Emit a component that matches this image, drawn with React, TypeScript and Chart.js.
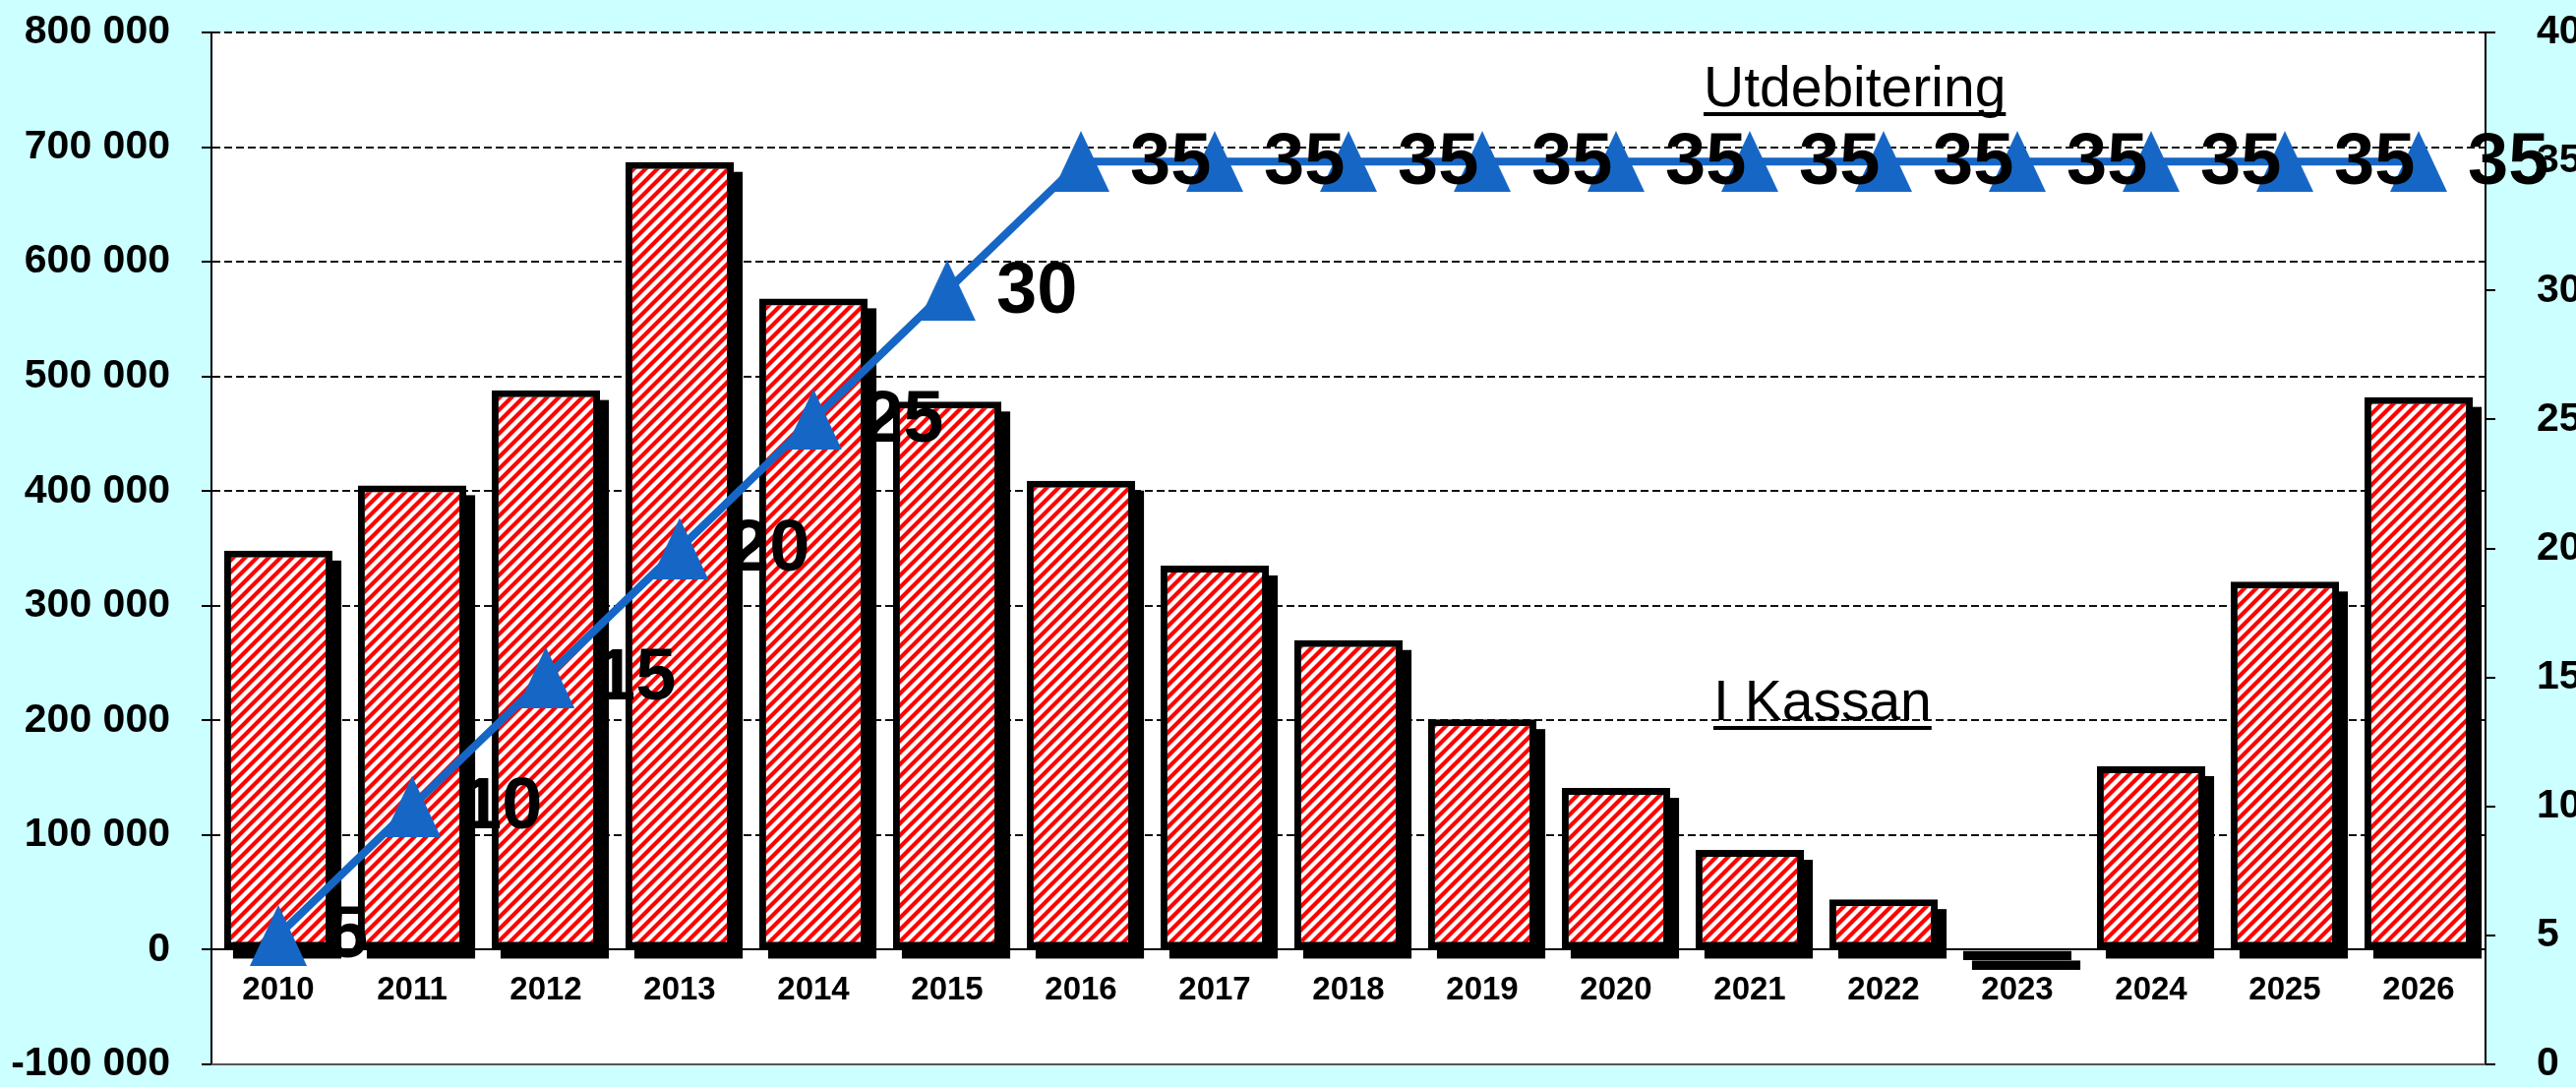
import React, { useEffect, useRef } from 'react';
import { Chart, registerables } from 'chart.js';

Chart.register(...registerables);

const years = ['2010', '2011', '2012', '2013', '2014', '2015', '2016', '2017', '2018', '2019', '2020', '2021', '2022', '2023', '2024', '2025', '2026'];
const iKassan = [348000, 405000, 488000, 687000, 568000, 478000, 409000, 335000, 270000, 201000, 141000, 87000, 44000, -9000, 160000, 321000, 482000];
const utdebitering = [5, 10, 15, 20, 25, 30, 35, 35, 35, 35, 35, 35, 35, 35, 35, 35, 35];
const leftAxis = { min: -100000, max: 800000, step: 100000 };
const rightAxis = { min: 0, max: 40, step: 5 };

const BLUE = '#1666C5';
const FONT = '"Liberation Sans", Arial, sans-serif';

function fmt(v: number): string {
  const s = String(Math.abs(v)).replace(/\B(?=(\d{3})+(?!\d))/g, ' ');
  return (v < 0 ? '-' : '') + s;
}

export default function App() {
  const ref = useRef<HTMLCanvasElement | null>(null);

  useEffect(() => {
    document.body.style.margin = '0';
    const canvas = ref.current!;
    const ctx = canvas.getContext('2d')!;

    // hatch pattern
    const P = 12;
    const p = document.createElement('canvas');
    p.width = P; p.height = P;
    const pc = p.getContext('2d')!;
    pc.fillStyle = '#ffffff';
    pc.fillRect(0, 0, P, P);
    pc.strokeStyle = '#ff0000';
    pc.lineWidth = 4.2;
    pc.beginPath();
    pc.moveTo(-3, P + 3); pc.lineTo(P + 3, -3);
    pc.moveTo(-3, 3); pc.lineTo(3, -3);
    pc.moveTo(P - 3, P + 3); pc.lineTo(P + 3, P - 3);
    pc.stroke();
    const pattern = ctx.createPattern(p, 'repeat')!;

    // triangle marker
    const t = document.createElement('canvas');
    t.width = 58; t.height = 62;
    const tc = t.getContext('2d')!;
    tc.fillStyle = BLUE;
    tc.beginPath();
    tc.moveTo(29, 0); tc.lineTo(58, 62); tc.lineTo(0, 62); tc.closePath();
    tc.fill();

    const bgPlugin = {
      id: 'bg',
      beforeDraw(chart: any) {
        const c = chart.ctx;
        const a = chart.chartArea;
        c.save();
        c.fillStyle = '#CCFFFF';
        c.fillRect(0, 0, chart.width, chart.height);
        c.fillStyle = '#ffffff';
        c.fillRect(a.left, a.top, a.right - a.left, a.bottom - a.top);
        c.restore();
      },
      beforeDatasetsDraw(chart: any) {
        const c = chart.ctx;
        const a = chart.chartArea;
        c.save();
        c.strokeStyle = '#555';
        c.lineWidth = 2;
        c.beginPath();
        c.moveTo(a.left, a.bottom);
        c.lineTo(a.right, a.bottom);
        c.stroke();
        c.restore();
      },
    };

    const shadowPlugin = {
      id: 'barShadow',
      beforeDatasetDraw(chart: any, args: any) {
        if (args.index !== 1) return;
        const c = chart.ctx;
        const meta = chart.getDatasetMeta(1);
        c.save();
        c.fillStyle = '#000';
        meta.data.forEach((el: any) => {
          const { x, y, base, width } = el.getProps(['x', 'y', 'base', 'width'], true);
          const top = Math.min(y, base);
          const h = Math.abs(base - y);
          c.fillRect(x - width / 2 + 9, top + 10, width, h);
        });
        c.restore();
      },
    };

    const labelPlugin = {
      id: 'labels',
      afterDatasetsDraw(chart: any) {
        const c = chart.ctx;
        const meta = chart.getDatasetMeta(0);
        c.save();
        c.fillStyle = '#000';
        c.font = 'bold 74px ' + FONT;
        c.textAlign = 'left';
        c.textBaseline = 'middle';
        meta.data.forEach((pt: any, i: number) => {
          c.fillText(String(utdebitering[i]), pt.x + 50, pt.y + 2);
        });
        // annotations
        c.font = '57px ' + FONT;
        c.textBaseline = 'alphabetic';
        const notes = [
          { text: 'Utdebitering', x: 1732, y: 108 },
          { text: 'I Kassan', x: 1742, y: 732 },
        ];
        notes.forEach((n) => {
          c.fillText(n.text, n.x, n.y);
          const w = c.measureText(n.text).width;
          c.fillRect(n.x, n.y + 6, w, 4);
        });
        c.restore();
      },
    };

    const noPad = (s: any) => { s.paddingTop = 0; s.paddingBottom = 0; };

    const chart = new Chart(canvas, {
      data: {
        labels: years,
        datasets: [
          {
            type: 'line',
            label: 'Utdebitering',
            data: utdebitering,
            yAxisID: 'y1',
            borderColor: BLUE,
            backgroundColor: BLUE,
            borderWidth: 8,
            pointStyle: t as any,
            pointRadius: 30,
            tension: 0,
            fill: false,
            order: 0,
          } as any,
          {
            type: 'bar',
            label: 'I Kassan',
            data: iKassan,
            yAxisID: 'y',
            backgroundColor: pattern as any,
            borderColor: '#000',
            borderWidth: 7,
            borderSkipped: false,
            barPercentage: 0.81,
            categoryPercentage: 1,
            order: 1,
          } as any,
        ],
      },
      options: {
        animation: false,
        responsive: false,
        maintainAspectRatio: false,
        events: [],
        layout: { autoPadding: false, padding: { top: 33, bottom: 23, left: 0, right: 0 } },
        plugins: { legend: { display: false }, tooltip: { enabled: false } },
        scales: {
          x: {
            type: 'category',
            position: { y: 0 } as any,
            offset: true,
            grid: { display: false, drawTicks: false },
            border: { display: true, color: '#000', width: 2 },
            ticks: {
              color: '#000',
              font: { size: 33, weight: 'bold', family: FONT },
              padding: 22,
              maxRotation: 0,
              autoSkip: false,
            },
            afterFit: (s: any) => { s.paddingLeft = 0; s.paddingRight = 0; },
          },
          y: {
            type: 'linear',
            position: 'left',
            min: leftAxis.min,
            max: leftAxis.max,
            ticks: {
              stepSize: leftAxis.step,
              color: '#000',
              font: { size: 41, weight: 'bold', family: FONT },
              padding: 32,
              callback: (v: any) => fmt(Number(v)),
            },
            grid: {
              color: '#111',
              lineWidth: 2,
              tickLength: 10,
              tickColor: '#000',
              tickWidth: 2,
              tickBorderDash: [1, 0],
            },
            border: { display: true, color: '#000', width: 2, dash: [8, 4] },
            afterFit: (s: any) => { s.width = 215; noPad(s); },
          },
          y1: {
            type: 'linear',
            position: 'right',
            min: rightAxis.min,
            max: rightAxis.max,
            ticks: {
              stepSize: rightAxis.step,
              color: '#000',
              font: { size: 41, weight: 'bold', family: FONT },
              padding: 42,
            },
            grid: {
              drawOnChartArea: false,
              color: '#000',
              lineWidth: 2,
              tickLength: 10,
            },
            border: { display: true, color: '#000', width: 2 },
            afterFit: (s: any) => { s.width = 92; noPad(s); },
          },
        },
      } as any,
      plugins: [bgPlugin, shadowPlugin, labelPlugin],
    });

    return () => chart.destroy();
  }, []);

  return (
    <canvas
      ref={ref}
      width={2619}
      height={1105}
      style={{ display: 'block', width: 2619, height: 1105 }}
    />
  );
}
